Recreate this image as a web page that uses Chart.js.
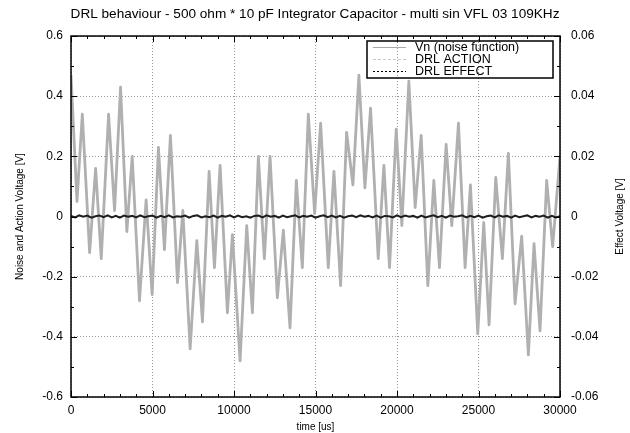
<!DOCTYPE html>
<html>
<head>
<meta charset="utf-8">
<script src="https://cdn.jsdelivr.net/npm/chart.js@4.4.0/dist/chart.umd.min.js"></script>
<style>
  html, body { margin: 0; padding: 0; background: #fff; }
  #wrap { width: 630px; height: 433px; }
</style>
</head>
<body>
<div id="wrap"><canvas id="drl" width="630" height="433"></canvas></div>
<script>
// Texts
const chartTitle = 'DRL behaviour - 500 ohm * 10 pF Integrator Capacitor - multi sin VFL 03 109KHz';
const seriesNames = ['Vn (noise function)', 'DRL ACTION', 'DRL EFFECT'];
const xTitle = 'time [us]';
const yTitle = 'Noise and Action Voltage [V]';
const y2Title = 'Effect Voltage [V]';

// Tick values / labels
const xTickValues = [0, 5000, 10000, 15000, 20000, 25000, 30000];
const xTickLabels = ['0', '5000', '10000', '15000', '20000', '25000', '30000'];
const yTickValues = [-0.6, -0.4, -0.2, 0, 0.2, 0.4, 0.6];
const yTickLabels = ['-0.6', '-0.4', '-0.2', '0', '0.2', '0.4', '0.6'];
const y2TickValues = [-0.06, -0.04, -0.02, 0, 0.02, 0.04, 0.06];
const y2TickLabels = ['-0.06', '-0.04', '-0.02', '0', '0.02', '0.04', '0.06'];

// Vn (noise function) - turning points
const noiseTime = [0, 367, 694, 1142, 1510, 1856, 2305, 2672, 3040, 3427,
  3754, 4202, 4610, 4978, 5365, 5732, 6100, 6533, 6860, 7309,
  7718, 8065, 8473, 8800, 9147, 9596, 9902, 10372, 10781, 11128,
  11495, 11863, 12210, 12659, 13028, 13436, 13824, 14192, 14559, 14947,
  15315, 15784, 16132, 16540, 16908, 17296, 17663, 18031, 18378, 18848,
  19196, 19543, 19951, 20298, 20727, 21115, 21483, 21891, 22259, 22606,
  23014, 23361, 23770, 24178, 24505, 24954, 25322, 25649, 26058, 26466,
  26834, 27242, 27650, 28059, 28406, 28774, 29182, 29549, 30000];
const noiseVolt = [0.47, 0.05, 0.34, -0.12, 0.16, -0.14, 0.34, 0.02, 0.43, -0.05,
  0.20, -0.28, 0.055, -0.26, 0.23, -0.11, 0.27, -0.22, 0.02, -0.44,
  -0.08, -0.35, 0.15, -0.17, 0.17, -0.32, -0.06, -0.48, -0.03, -0.32,
  0.20, -0.14, 0.20, -0.27, -0.045, -0.37, 0.12, -0.17, 0.34, 0.01,
  0.31, -0.17, 0.15, -0.23, 0.28, 0.105, 0.47, 0.095, 0.36, -0.14,
  0.17, -0.17, 0.29, -0.03, 0.45, 0.03, 0.27, -0.23, 0.12, -0.17,
  0.24, -0.03, 0.31, -0.17, 0.105, -0.39, -0.02, -0.36, 0.13, -0.14,
  0.21, -0.29, -0.065, -0.46, -0.09, -0.38, 0.12, -0.10, 0.20];

// DRL ACTION - sits on zero
const actionTime = [0, 30000];
const actionVolt = [0, 0];

// DRL EFFECT (right axis) - small jitter around zero
const effectTime = [0, 250, 500, 750, 1000, 1250, 1500, 1750, 2000, 2250,
  2500, 2750, 3000, 3250, 3500, 3750, 4000, 4250, 4500, 4750,
  5000, 5250, 5500, 5750, 6000, 6250, 6500, 6750, 7000, 7250,
  7500, 7750, 8000, 8250, 8500, 8750, 9000, 9250, 9500, 9750,
  10000, 10250, 10500, 10750, 11000, 11250, 11500, 11750, 12000, 12250,
  12500, 12750, 13000, 13250, 13500, 13750, 14000, 14250, 14500, 14750,
  15000, 15250, 15500, 15750, 16000, 16250, 16500, 16750, 17000, 17250,
  17500, 17750, 18000, 18250, 18500, 18750, 19000, 19250, 19500, 19750,
  20000, 20250, 20500, 20750, 21000, 21250, 21500, 21750, 22000, 22250,
  22500, 22750, 23000, 23250, 23500, 23750, 24000, 24250, 24500, 24750,
  25000, 25250, 25500, 25750, 26000, 26250, 26500, 26750, 27000, 27250,
  27500, 27750, 28000, 28250, 28500, 28750, 29000, 29250, 29500, 29750,
  30000];
const effectVolt = [0.0002, -0.0003, 0.0004, -0.0001, 0.0003, -0.0004, 0.0001, 0.0003, -0.0002, 0.0004,
  -0.0003, 0.0002, -0.0004, 0.0003, -0.0001, 0.0002, -0.0003, 0.0004, -0.0002, 0.0001,
  0.0003, -0.0004, 0.0002, -0.0002, 0.0004, -0.0003, 0.0001, -0.0001, 0.0003, -0.0004,
  0.0002, 0.0004, -0.0003, 0.0001, -0.0002, 0.0003, -0.0004, 0.0002, -0.0001, 0.0004,
  -0.0003, 0.0003, -0.0002, 0.0001, -0.0004, 0.0002, 0.0003, -0.0003, 0.0004, -0.0001,
  0.0002, -0.0004, 0.0003, -0.0002, 0.0001, 0.0004, -0.0003, 0.0002, -0.0001, 0.0003,
  -0.0004, 0.0001, 0.0004, -0.0002, 0.0003, -0.0003, 0.0002, -0.0004, 0.0001, 0.0003,
  -0.0002, 0.0004, -0.0001, 0.0002, -0.0003, 0.0003, -0.0004, 0.0002, 0.0001, -0.0003,
  0.0004, -0.0002, 0.0003, -0.0001, 0.0002, -0.0004, 0.0003, -0.0003, 0.0001, 0.0004,
  -0.0002, 0.0002, -0.0004, 0.0003, -0.0001, 0.0001, 0.0004, -0.0003, 0.0002, -0.0002,
  0.0003, -0.0004, 0.0001, 0.0003, -0.0003, 0.0004, -0.0001, 0.0002, -0.0004, 0.0003,
  -0.0002, 0.0001, 0.0004, -0.0003, 0.0002, -0.0001, 0.0003, -0.0004, 0.0002, -0.0003,
  0.0001];

const FONT = '"Liberation Sans", Arial, sans-serif';
Chart.defaults.font.family = FONT;
Chart.defaults.color = '#000';

function toPoints(xs, ys) {
  return xs.map((x, i) => ({ x: x, y: ys[i] }));
}

// frame, inward ticks, axis titles and the key, gnuplot style
const gnuplotDecor = {
  id: 'gnuplotDecor',
  afterDatasetsDraw(chart) {
    const { ctx, chartArea: a, scales } = chart;
    ctx.save();

    // ticks (major + minor), pointing inwards
    ctx.strokeStyle = '#000';
    ctx.lineWidth = 1;
    ctx.beginPath();
    for (let t = 0; t <= 30000; t += 1000) {
      const x = Math.round(scales.x.getPixelForValue(t)) + 0.5;
      const len = t % 5000 === 0 ? 6 : 3;
      ctx.moveTo(x, a.bottom); ctx.lineTo(x, a.bottom - len);
      ctx.moveTo(x, a.top); ctx.lineTo(x, a.top + len);
    }
    for (let i = -6; i <= 6; i++) {
      const len = i % 2 === 0 ? 6 : 3;
      const y = Math.round(scales.y.getPixelForValue(i / 10)) + 0.5;
      ctx.moveTo(a.left, y); ctx.lineTo(a.left + len, y);
      const y2 = Math.round(scales.y2.getPixelForValue(i / 100)) + 0.5;
      ctx.moveTo(a.right, y2); ctx.lineTo(a.right - len, y2);
    }
    ctx.stroke();

    // border
    ctx.lineWidth = 1.5;
    ctx.strokeRect(a.left, a.top, a.right - a.left, a.bottom - a.top);

    // axis titles
    ctx.fillStyle = '#000';
    ctx.font = '10px ' + FONT;
    ctx.textAlign = 'center';
    ctx.textBaseline = 'middle';
    const midY = (a.top + a.bottom) / 2;
    ctx.fillText(xTitle, (a.left + a.right) / 2, 427);
    ctx.save();
    ctx.translate(20, midY);
    ctx.rotate(-Math.PI / 2);
    ctx.fillText(yTitle, 0, 0);
    ctx.restore();
    ctx.save();
    ctx.translate(620, midY);
    ctx.rotate(-Math.PI / 2);
    ctx.fillText(y2Title, 0, 0);
    ctx.restore();

    // key box
    const box = { l: 367, t: 41, r: 553, b: 78 };
    ctx.lineWidth = 1.5;
    ctx.strokeStyle = '#000';
    ctx.strokeRect(box.l, box.t, box.r - box.l, box.b - box.t);
    ctx.font = '12.5px ' + FONT;
    ctx.textAlign = 'left';
    chart.data.datasets.forEach((ds, i) => {
      const y = 47.5 + i * 12;
      ctx.save();
      ctx.strokeStyle = ds.keyColor;
      ctx.lineWidth = 1;
      ctx.setLineDash(ds.keyDash);
      ctx.beginPath();
      ctx.moveTo(373, y); ctx.lineTo(406, y);
      ctx.stroke();
      ctx.restore();
      ctx.fillText(ds.label, 415, y + 0.5);
    });

    ctx.restore();
  }
};

new Chart(document.getElementById('drl'), {
  type: 'line',
  data: {
    datasets: [
      {
        label: seriesNames[0],
        data: toPoints(noiseTime, noiseVolt),
        yAxisID: 'y',
        borderColor: '#b0b0b0',
        borderWidth: 2.8,
        borderJoinStyle: 'round',
        pointRadius: 0,
        tension: 0,
        order: 3,
        keyColor: '#aaaaaa',
        keyDash: []
      },
      {
        label: seriesNames[1],
        data: toPoints(actionTime, actionVolt),
        yAxisID: 'y',
        borderColor: '#c8c8c8',
        borderWidth: 1,
        borderDash: [4, 3],
        pointRadius: 0,
        order: 2,
        keyColor: '#c8c8c8',
        keyDash: [3, 2]
      },
      {
        label: seriesNames[2],
        data: toPoints(effectTime, effectVolt),
        yAxisID: 'y2',
        borderColor: '#1e1e1e',
        borderWidth: 2,
        pointRadius: 0,
        tension: 0,
        order: 1,
        keyColor: '#000',
        keyDash: [2, 2]
      }
    ]
  },
  options: {
    responsive: false,
    animation: false,
    events: [],
    layout: { padding: 0 },
    plugins: {
      legend: { display: false },
      tooltip: { enabled: false },
      title: {
        display: true,
        text: chartTitle,
        color: '#000',
        font: { size: 13.6, weight: 'normal', family: FONT },
        padding: { top: 6, bottom: 13.7 }
      }
    },
    scales: {
      x: {
        type: 'linear',
        min: 0,
        max: 30000,
        afterBuildTicks: (s) => { s.ticks = xTickValues.map(v => ({ value: v })); },
        afterFit: (s) => { s.height = 36; },
        ticks: {
          callback: (v, i) => xTickLabels[i],
          font: { size: 12 },
          padding: 6,
          maxRotation: 0,
          autoSkip: false
        },
        grid: { color: '#999', lineWidth: 1, drawTicks: false },
        border: { display: false, dash: [1, 2] }
      },
      y: {
        position: 'left',
        min: -0.6,
        max: 0.6,
        afterBuildTicks: (s) => { s.ticks = yTickValues.map(v => ({ value: v })); },
        afterFit: (s) => { s.width = 71; },
        ticks: {
          callback: (v, i) => yTickLabels[i],
          font: { size: 12 },
          padding: 8,
          autoSkip: false
        },
        grid: { color: '#999', lineWidth: 1, drawTicks: false },
        border: { display: false, dash: [1, 2] }
      },
      y2: {
        position: 'right',
        min: -0.06,
        max: 0.06,
        afterBuildTicks: (s) => { s.ticks = y2TickValues.map(v => ({ value: v })); },
        afterFit: (s) => { s.width = 70; },
        ticks: {
          callback: (v, i) => y2TickLabels[i],
          font: { size: 12 },
          padding: 11,
          autoSkip: false
        },
        grid: { display: false, drawTicks: false },
        border: { display: false }
      }
    }
  },
  plugins: [gnuplotDecor]
});
</script>
</body>
</html>
